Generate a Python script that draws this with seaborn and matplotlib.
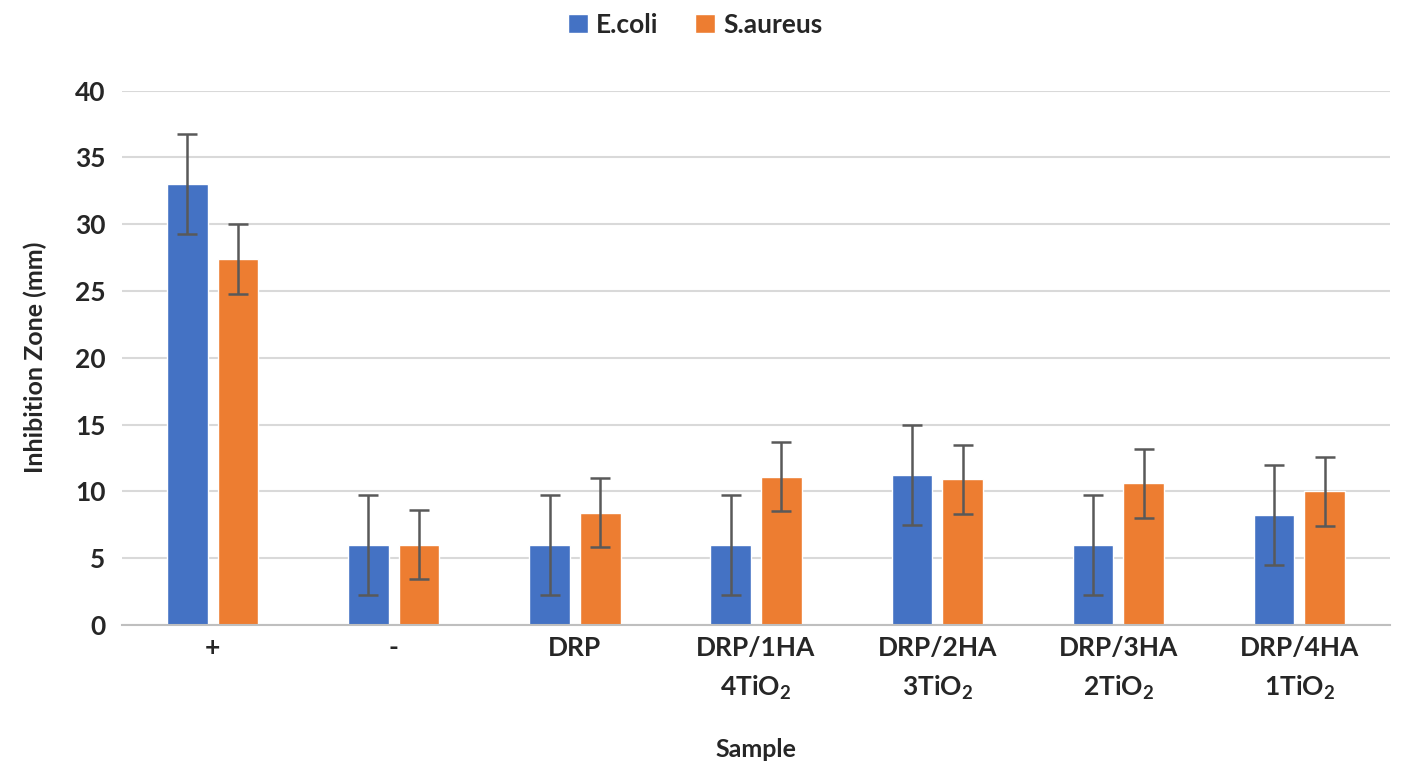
import matplotlib
matplotlib.use("Agg")
import matplotlib.pyplot as plt
import seaborn as sns
import pandas as pd
import numpy as np

# data
samples = ["+", "-", "DRP", "DRP/1HA\n4TiO$_\\mathbf{2}$", "DRP/2HA\n3TiO$_\\mathbf{2}$",
           "DRP/3HA\n2TiO$_\\mathbf{2}$", "DRP/4HA\n1TiO$_\\mathbf{2}$"]
ecoli = [33.0, 6.0, 6.0, 6.0, 11.2, 6.0, 8.25]
saureus = [27.4, 6.0, 8.4, 11.1, 10.9, 10.6, 10.0]
ecoli_err = [3.75, 3.75, 3.75, 3.75, 3.75, 3.75, 3.75]
saureus_err = [2.6, 2.6, 2.6, 2.6, 2.6, 2.6, 2.6]

sns.set_style("white")
plt.rcParams["font.family"] = ["Lato", "DejaVu Sans"]
plt.rcParams["mathtext.fontset"] = "custom"
plt.rcParams["mathtext.rm"] = "Lato"
plt.rcParams["mathtext.bf"] = "Lato:bold"

df = pd.DataFrame({
    "Sample": samples * 2,
    "value": ecoli + saureus,
    "Bacteria": ["E.coli"] * len(samples) + ["S.aureus"] * len(samples),
})

fig = plt.figure(figsize=(14.04, 7.82), dpi=100)
ax = fig.add_axes([0.087, 0.201, 0.903, 0.683])

sns.barplot(data=df, x="Sample", y="value", hue="Bacteria",
            palette=["#4472C4", "#ED7D31"], saturation=1, width=0.56, gap=0.2,
            errorbar=None, ax=ax, zorder=2)

# error bars on top of the bars
errs = ecoli_err + saureus_err
vals = ecoli + saureus
bars = [p for p in ax.patches if p.get_height() > 0][:len(vals)]
xs = [p.get_x() + p.get_width() / 2 for p in bars]
ax.errorbar(xs, vals, yerr=errs, fmt="none", ecolor="#595959",
            elinewidth=1.8, capsize=7, capthick=1.8, zorder=3)

ax.set_ylim(0, 40)
ax.set_xlim(-0.5, len(samples) - 0.5)
ax.set_yticks(range(0, 41, 5))
ax.yaxis.grid(True, color="#d9d9d9", linewidth=1.5, zorder=0)
ax.set_axisbelow(True)

for s in ["top", "right", "left"]:
    ax.spines[s].set_visible(False)
ax.spines["bottom"].set_color("#bfbfbf")
ax.spines["bottom"].set_linewidth(1.5)

ax.set_xticks(np.arange(len(samples)))
ax.set_xticklabels(samples, fontsize=19, fontweight="bold", linespacing=1.6)
ax.set_xticks(np.arange(-0.5, len(samples)), minor=True)
ax.tick_params(axis="x", which="major", length=0, pad=8)
ax.tick_params(axis="x", which="minor", length=8, color="#bfbfbf", width=1.5)
ax.tick_params(axis="y", length=0, pad=12)
for t in ax.get_yticklabels():
    t.set_fontsize(19)
    t.set_fontweight("bold")

ax.set_xlabel("Sample", fontsize=18, fontweight="bold", labelpad=26)
ax.set_ylabel("Inhibition Zone (mm)", fontsize=18, fontweight="bold", labelpad=20)

ax.legend(loc="upper center", bbox_to_anchor=(0.452, 1.19), ncol=2, frameon=False,
          prop={"size": 19, "weight": "bold"}, handlelength=0.75, handleheight=0.75,
          columnspacing=1.4, handletextpad=0.3)

fig.savefig("out.png", dpi=100)
